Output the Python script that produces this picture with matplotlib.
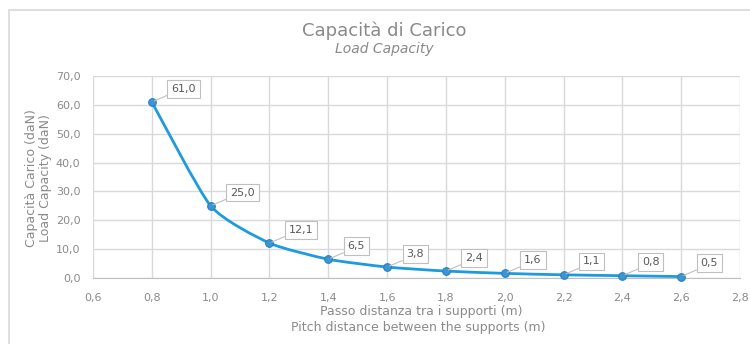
import matplotlib
matplotlib.use('Agg')
import matplotlib.pyplot as plt
from matplotlib.path import Path
from matplotlib.patches import PathPatch, Rectangle
from matplotlib.ticker import FuncFormatter

# pitch between supports (m) and load capacity (daN)
pitch = [0.8, 1.0, 1.2, 1.4, 1.6, 1.8, 2.0, 2.2, 2.4, 2.6]
capacity = [61.0, 25.0, 12.1, 6.5, 3.8, 2.4, 1.6, 1.1, 0.8, 0.5]

x_ticks = [0.6, 0.8, 1.0, 1.2, 1.4, 1.6, 1.8, 2.0, 2.2, 2.4, 2.6, 2.8]
y_ticks = [0, 10, 20, 30, 40, 50, 60, 70]

TEXT_GREY = '#8a8a8a'
GRID_GREY = '#d9d9d9'
LINE_BLUE = '#1e9ade'
MARKER_BLUE = '#3a97d4'

plt.rcParams['font.family'] = ['DejaVu Sans']


def comma(v, _pos=None, digits=1):
    return f'{v:.{digits}f}'.replace('.', ',')


def smooth_path(xs, ys, tension=0.1):
    # cubic Bezier through every point, handles along the neighbour chord
    pts = list(zip(xs, ys))
    verts = [pts[0]]
    codes = [Path.MOVETO]
    n = len(pts)
    for i in range(n - 1):
        p0 = pts[i - 1] if i > 0 else pts[i]
        p1 = pts[i]
        p2 = pts[i + 1]
        p3 = pts[i + 2] if i + 2 < n else pts[i + 1]
        c1 = (p1[0] + (p2[0] - p0[0]) * tension, p1[1] + (p2[1] - p0[1]) * tension)
        c2 = (p2[0] - (p3[0] - p1[0]) * tension, p2[1] - (p3[1] - p1[1]) * tension)
        verts += [c1, c2, p2]
        codes += [Path.CURVE4] * 3
    return Path(verts, codes)


fig = plt.figure(figsize=(7.5, 3.44), dpi=100)
ax = fig.add_axes([93 / 750, 66 / 344, 647 / 750, 202 / 344])

# outer chart frame
fig.patches.append(Rectangle((9 / 750, -0.05), 0.99, 1 - 10 / 344 + 0.05,
                             transform=fig.transFigure, fill=False,
                             edgecolor=GRID_GREY, linewidth=1.2))

ax.set_xlim(0.6, 2.8)
ax.set_ylim(0, 70)
ax.set_xticks(x_ticks)
ax.set_yticks(y_ticks)
ax.xaxis.set_major_formatter(FuncFormatter(comma))
ax.yaxis.set_major_formatter(FuncFormatter(comma))
ax.tick_params(length=0, labelsize=8, labelcolor=TEXT_GREY)
ax.tick_params(axis='x', pad=11)
ax.tick_params(axis='y', pad=9)
ax.grid(True, color=GRID_GREY, linewidth=1)
ax.set_axisbelow(True)
for side in ['top', 'right', 'left']:
    ax.spines[side].set_visible(False)
ax.spines['bottom'].set_color('#bfbfbf')
ax.spines['bottom'].set_zorder(1)

ax.add_patch(PathPatch(smooth_path(pitch, capacity), fill=False,
                       edgecolor=LINE_BLUE, linewidth=2, zorder=3))
ax.plot(pitch, capacity, linestyle='none', marker='o', markersize=5.5,
        markerfacecolor=MARKER_BLUE, markeredgecolor='#2a7fbf',
        markeredgewidth=0.8, zorder=4, clip_on=False)

for x, y in zip(pitch, capacity):
    ax.annotate(comma(y), xy=(x, y), xytext=(14, 6), textcoords='offset points',
                ha='left', va='bottom', fontsize=8, color='#595959', zorder=5,
                bbox=dict(boxstyle='square,pad=0.35', facecolor='white',
                          edgecolor='#bfbfbf', linewidth=0.8),
                arrowprops=dict(arrowstyle='-', color='#bfbfbf', linewidth=0.8,
                                relpos=(0, 0), shrinkA=0, shrinkB=2))

fig.text(0.513, 1 - 31 / 344, 'Capacità di Carico', ha='center', va='center',
         fontsize=13, color=TEXT_GREY)
fig.text(0.513, 1 - 49 / 344, 'Load Capacity', ha='center', va='center',
         fontsize=10, color=TEXT_GREY, style='italic')

fig.text(0.562, 1 - 312 / 344, 'Passo distanza tra i supporti (m)', ha='center',
         va='center', fontsize=9, color=TEXT_GREY)
fig.text(0.558, 1 - 327 / 344, 'Pitch distance between the supports (m)',
         ha='center', va='center', fontsize=9, color=TEXT_GREY)
fig.text(32 / 750, 1 - 178 / 344, 'Capacità Carico (daN)', rotation=90,
         ha='center', va='center', fontsize=9, color=TEXT_GREY)
fig.text(46 / 750, 1 - 178 / 344, 'Load Capacity (daN)', rotation=90,
         ha='center', va='center', fontsize=9, color=TEXT_GREY)

fig.savefig('out.png', dpi=100)
